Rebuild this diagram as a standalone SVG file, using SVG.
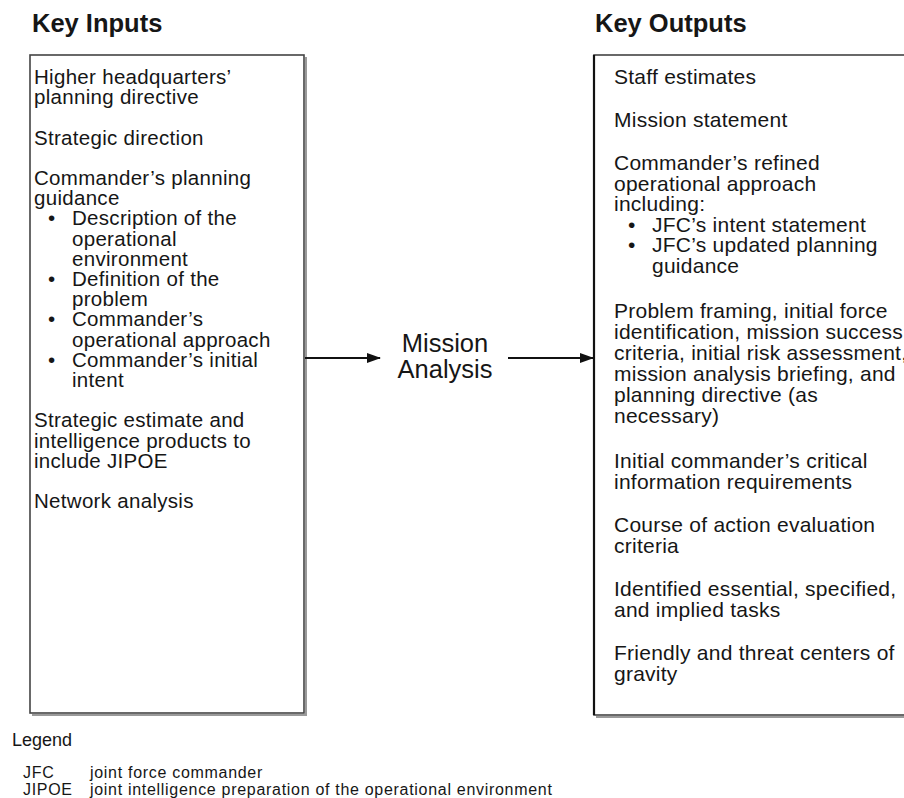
<svg xmlns="http://www.w3.org/2000/svg" width="904" height="798" viewBox="0 0 904 798">
<defs>
<style>
text{font-family:"Liberation Sans",Arial,Helvetica,sans-serif;fill:#161616}
.title{font-size:25.5px;font-weight:bold}
.li{font-size:20.5px;letter-spacing:0.3px}
.ro{font-size:21px;letter-spacing:0.25px}
.ma{font-size:25.5px}
.lg{font-size:18px}
.lr{font-size:16px;letter-spacing:0.7px}
.box{fill:#fff;stroke:#444;stroke-width:1.6}
.shadow{stroke:#9a9a9a;stroke-width:2;fill:none}
.conn{stroke:#111;stroke-width:2;fill:none}
</style>
<marker id="ah" viewBox="0 0 14 10" refX="13" refY="5" markerWidth="14" markerHeight="10" markerUnits="userSpaceOnUse" orient="auto">
<path d="M0,0 L14,5 L0,10 Z" fill="#111"/>
</marker>
</defs>
<rect width="904" height="798" fill="#fff"/>
<text class="title" x="32" y="32">Key Inputs</text>
<text class="title" x="595" y="32">Key Outputs</text>

<g id="inputs">
<rect class="box" x="30" y="55" width="274" height="658"/>
<path class="shadow" d="M306,57 V715 H32"/>
<text class="li">
<tspan x="34" y="84">Higher headquarters’</tspan>
<tspan x="34" y="104.2">planning directive</tspan>
<tspan x="34" y="144.6">Strategic direction</tspan>
<tspan x="34" y="185">Commander’s planning</tspan>
<tspan x="34" y="205.2">guidance</tspan>
<tspan x="48" y="225.4">•</tspan><tspan x="72" y="225.4">Description of the</tspan>
<tspan x="72" y="245.6">operational</tspan>
<tspan x="72" y="265.8">environment</tspan>
<tspan x="48" y="286">•</tspan><tspan x="72" y="286">Definition of the</tspan>
<tspan x="72" y="306.2">problem</tspan>
<tspan x="48" y="326.4">•</tspan><tspan x="72" y="326.4">Commander’s</tspan>
<tspan x="72" y="346.6">operational approach</tspan>
<tspan x="48" y="366.8">•</tspan><tspan x="72" y="366.8">Commander’s initial</tspan>
<tspan x="72" y="387">intent</tspan>
<tspan x="34" y="427.4">Strategic estimate and</tspan>
<tspan x="34" y="447.6">intelligence products to</tspan>
<tspan x="34" y="467.8">include JIPOE</tspan>
<tspan x="34" y="508.2">Network analysis</tspan>
</text>
</g>

<g id="mission-analysis">
<text class="ma" text-anchor="middle" x="445" y="352">Mission</text>
<text class="ma" text-anchor="middle" x="445" y="378">Analysis</text>
</g>

<g id="outputs">
<rect class="box" x="594" y="55" width="330" height="660"/>
<path class="shadow" d="M596,717 H904"/>
<line x1="594" y1="55" x2="594" y2="715" stroke="#111" stroke-width="2.2"/>
<text class="ro">
<tspan x="614" y="84">Staff estimates</tspan>
<tspan x="614" y="127">Mission statement</tspan>
<tspan x="614" y="170">Commander’s refined</tspan>
<tspan x="614" y="190.5">operational approach</tspan>
<tspan x="614" y="211">including:</tspan>
<tspan x="628" y="231.5">•</tspan><tspan x="652" y="231.5">JFC’s intent statement</tspan>
<tspan x="628" y="252">•</tspan><tspan x="652" y="252">JFC’s updated planning</tspan>
<tspan x="652" y="272.5">guidance</tspan>
<tspan x="614" y="318">Problem framing, initial force</tspan>
<tspan x="614" y="339">identification, mission success</tspan>
<tspan x="614" y="360">criteria, initial risk assessment,</tspan>
<tspan x="614" y="381">mission analysis briefing, and</tspan>
<tspan x="614" y="402">planning directive (as</tspan>
<tspan x="614" y="423">necessary)</tspan>
<tspan x="614" y="468">Initial commander’s critical</tspan>
<tspan x="614" y="489">information requirements</tspan>
<tspan x="614" y="532">Course of action evaluation</tspan>
<tspan x="614" y="553">criteria</tspan>
<tspan x="614" y="596">Identified essential, specified,</tspan>
<tspan x="614" y="617">and implied tasks</tspan>
<tspan x="614" y="660">Friendly and threat centers of</tspan>
<tspan x="614" y="681">gravity</tspan>
</text>
</g>

<g id="connectors">
<line class="conn" x1="305" y1="358" x2="380" y2="358" marker-end="url(#ah)"/>
<line class="conn" x1="508" y1="358" x2="593" y2="358" marker-end="url(#ah)"/>
</g>

<g id="legend">
<text class="lg" x="12" y="746">Legend</text>
<text class="lr" x="23" y="778">JFC</text>
<text class="lr" x="90" y="778">joint force commander</text>
<text class="lr" x="23" y="795">JIPOE</text>
<text class="lr" x="90" y="795">joint intelligence preparation of the operational environment</text>
</g>
</svg>
